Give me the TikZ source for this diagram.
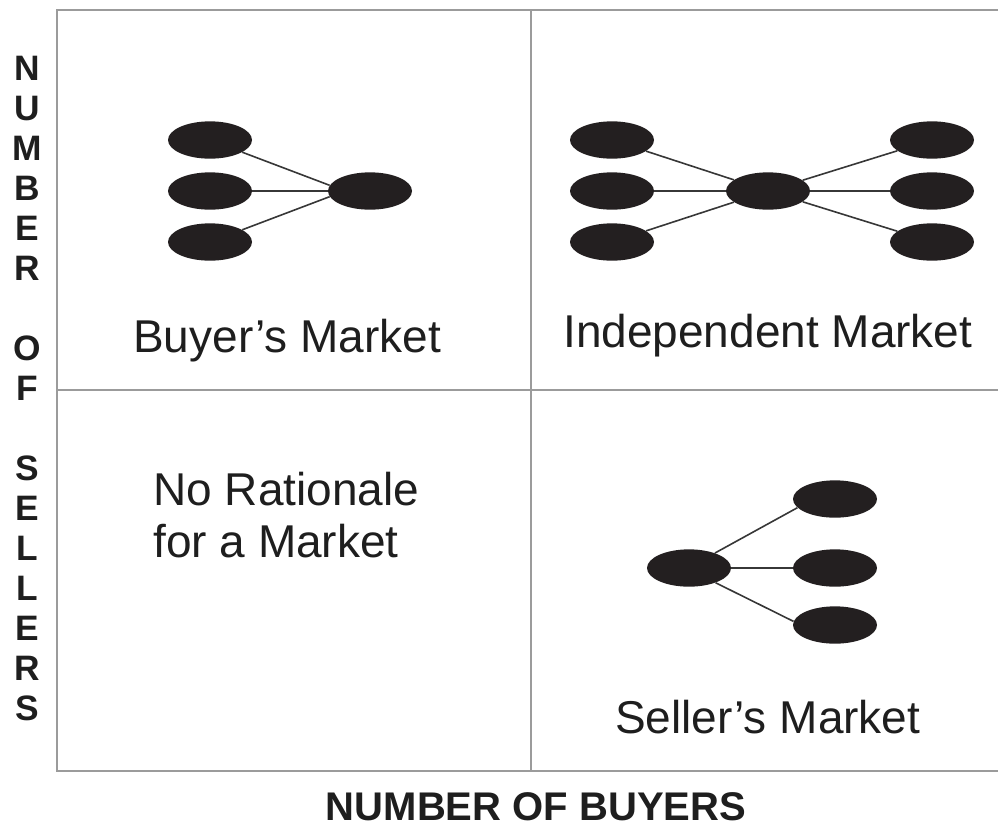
\documentclass[tikz,border=0pt]{standalone}
\usepackage{fontspec}
\setmainfont{Liberation Sans}
\usetikzlibrary{shapes.geometric}
\definecolor{framegray}{RGB}{155,155,155}
\definecolor{blob}{RGB}{35,31,32}
\definecolor{linkgray}{RGB}{55,55,55}
\definecolor{txt}{RGB}{30,30,30}
\begin{document}
\begin{tikzpicture}[x=0.75pt,y=-0.75pt,
  blobnode/.style={ellipse, fill=blob, draw=none, minimum width=63pt, minimum height=28pt, inner sep=0pt},
  link/.style={draw=linkgray, line width=1.2pt},
  frameline/.style={draw=framegray, line width=1.5pt},
  marketlabel/.style={anchor=base west, inner sep=0pt, text=txt, font=\fontsize{34.5}{40}\selectfont},
  axislabel/.style={inner sep=0pt, text=txt}]
\useasboundingbox (0,0) rectangle (998,829);
% frame
\draw[frameline] (1000,10) -- (57,10) -- (57,771) -- (1000,771);
\draw[frameline] (531,10) -- (531,771);
\draw[frameline] (57,390) -- (1000,390);
% axis labels
\node[axislabel, anchor=north, align=center, font=\bfseries\fontsize{26.5}{30}\selectfont] (sellers) at (27,56)
  {N\\U\\M\\B\\E\\R\\~\\O\\F\\~\\S\\E\\L\\L\\E\\R\\S};
\node[axislabel, anchor=base, font=\bfseries\fontsize{30}{36}\selectfont] (buyers) at (536,820) {NUMBER OF BUYERS};
% quadrant labels
\node[marketlabel] (buyerlbl) at (133,352) {Buyer’s Market};
\node[marketlabel] (indlbl) at (563,347) {Independent Market};
\node[marketlabel] (norat1) at (153,505) {No Rationale};
\node[marketlabel] (norat2) at (153,557) {for a Market};
\node[marketlabel] (sellerlbl) at (615,733) {Seller’s Market};
% buyer's market
\node[blobnode] (bl1) at (210,140) {};
\node[blobnode] (bl2) at (210,191) {};
\node[blobnode] (bl3) at (210,242) {};
\node[blobnode] (bc) at (370,191) {};
\draw[link] (bl1) -- (bc.172);
\draw[link] (bl2) -- (bc.west);
\draw[link] (bl3) -- (bc.188);
% independent market
\node[blobnode] (il1) at (612,140) {};
\node[blobnode] (il2) at (612,191) {};
\node[blobnode] (il3) at (612,242) {};
\node[blobnode] (ic) at (768,191) {};
\node[blobnode] (ir1) at (932,140) {};
\node[blobnode] (ir2) at (932,191) {};
\node[blobnode] (ir3) at (932,242) {};
\foreach \n in {il1,il2,il3,ir1,ir2,ir3} \draw[link] (\n) -- (ic);
% seller's market
\node[blobnode] (sc) at (689,568) {};
\node[blobnode] (sr1) at (835,499) {};
\node[blobnode] (sr2) at (835,568) {};
\node[blobnode] (sr3) at (835,625) {};
\draw[link] (sc.30) -- (sr1.193);
\draw[link] (sc) -- (sr2);
\draw[link] (sc.331) -- (sr3.175);
\end{tikzpicture}
\end{document}
